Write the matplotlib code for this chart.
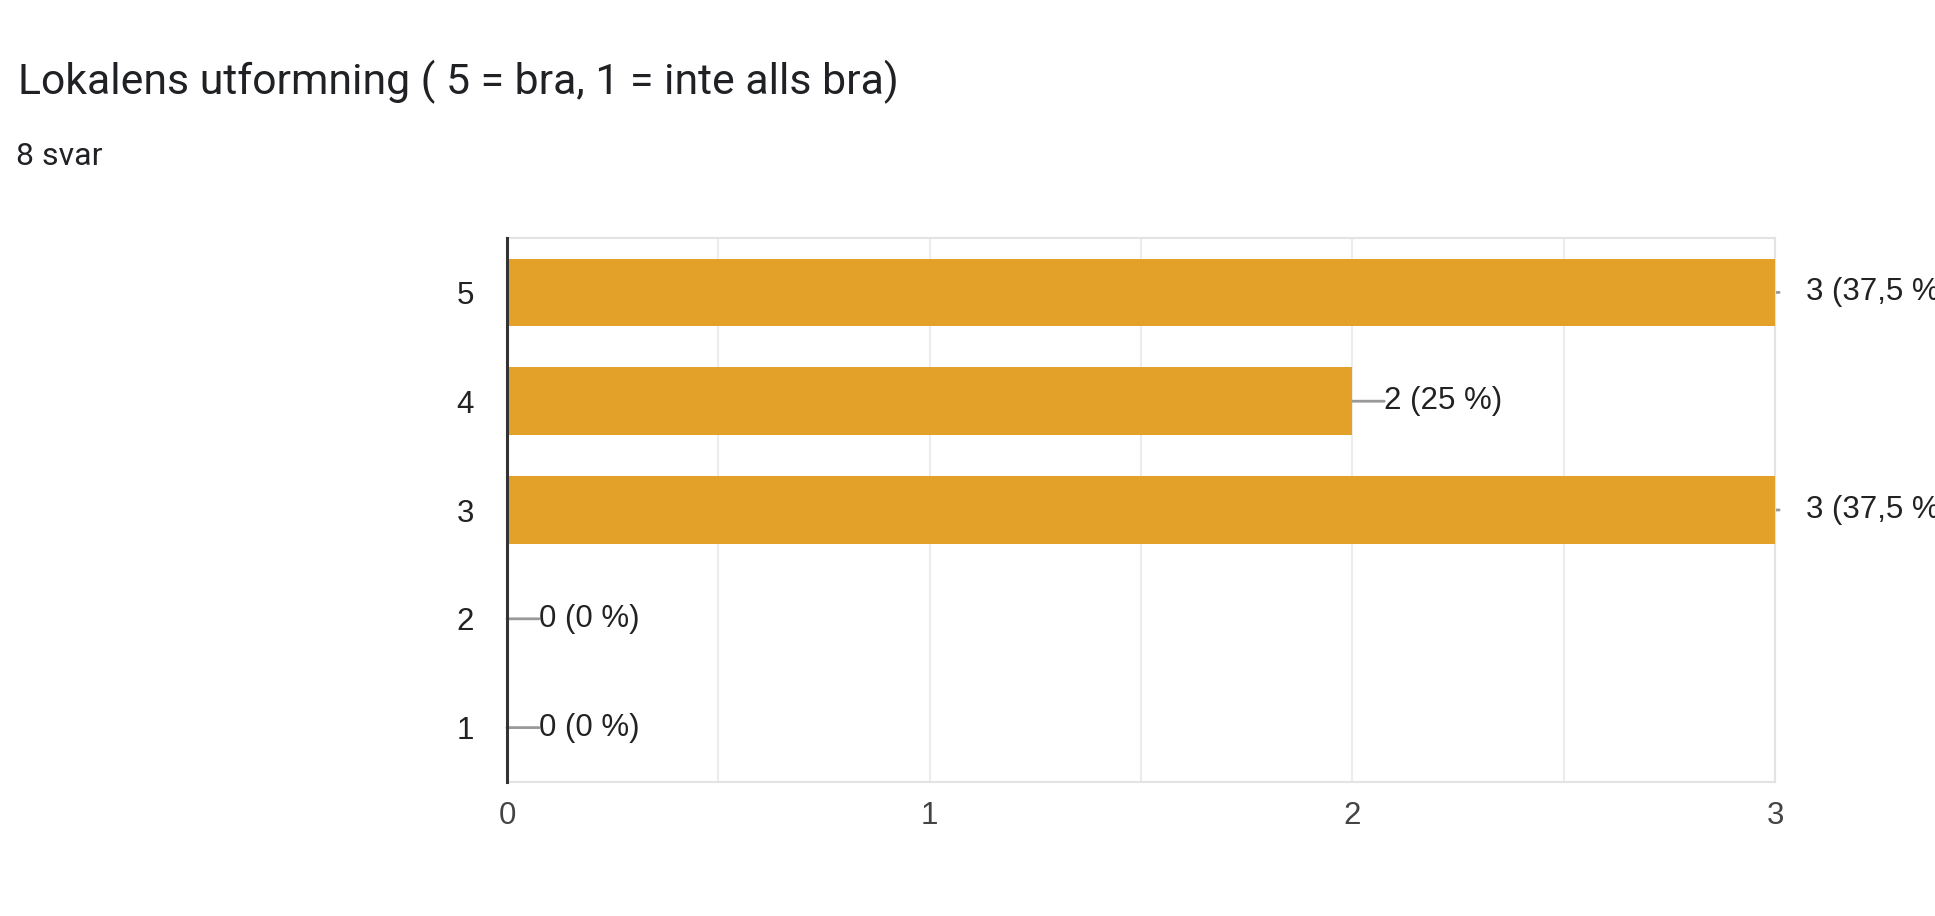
import matplotlib.pyplot as plt
from matplotlib.ticker import MultipleLocator

# data
title = "Lokalens utformning ( 5 = bra, 1 = inte alls bra)"
subtitle = "8 svar"
categories = ["5", "4", "3", "2", "1"]
counts = [3, 2, 3, 0, 0]
percents = ["37,5", "25", "37,5", "0", "0"]
x_ticks = [0, 1, 2, 3]

BAR_COLOR = "#e4a12a"
GRID_COLOR = "#ececec"

fig = plt.figure(figsize=(19.35, 9.16), dpi=100)
fig.text(0.0093, 1 - 94 / 916, title, fontsize=30.8, family="Roboto",
         color="#202124", va="baseline")
fig.text(0.0083, 1 - 165 / 916, subtitle, fontsize=23, family="Roboto",
         color="#202124", va="baseline")

ax = fig.add_axes([507 / 1935, 1 - 782 / 916, (1775 - 507) / 1935, (782 - 238) / 916])
ypos = [int(c) for c in categories]
ax.barh(ypos, counts, height=0.62, color=BAR_COLOR, zorder=3)

ax.set_xlim(0, 3)
ax.set_ylim(0.5, 5.5)
ax.xaxis.set_minor_locator(MultipleLocator(0.5))
ax.set_xticks(x_ticks)
ax.set_yticks(ypos)
ax.set_yticklabels(categories)
ax.grid(axis="x", which="both", color=GRID_COLOR, lw=1.5, zorder=0)
ax.tick_params(axis="both", which="both", length=0)
ax.tick_params(axis="y", pad=24, labelsize=22.5, labelcolor="#222222")
ax.tick_params(axis="x", pad=14, labelsize=22.5, labelcolor="#444444")
for lab in ax.get_xticklabels() + ax.get_yticklabels():
    lab.set_family("Liberation Sans")

for side in ["top", "bottom", "right"]:
    ax.spines[side].set_color("#e3e3e3")
    ax.spines[side].set_linewidth(1.5)
ax.spines["left"].set_color("#333333")
ax.spines["left"].set_linewidth(2.2)
ax.spines["left"].set_zorder(5)

# value labels with grey leader lines
vmax = max(counts)
for y, v, p in zip(ypos, counts, percents):
    line_len = 3 if v == vmax else 23
    text_off = 22 if v == vmax else 23
    ax.annotate("", xy=(v, y), xytext=(line_len, 0), textcoords="offset points",
                arrowprops=dict(arrowstyle="-", color="#999999", lw=2,
                                shrinkA=0, shrinkB=0),
                annotation_clip=False, zorder=2)
    ax.annotate(f"{v} ({p} %)", xy=(v, y), xytext=(text_off, 0),
                textcoords="offset points", va="center", ha="left",
                fontsize=22.5, family="Liberation Sans", color="#222222",
                annotation_clip=False)

plt.savefig("out.png", dpi=100)
